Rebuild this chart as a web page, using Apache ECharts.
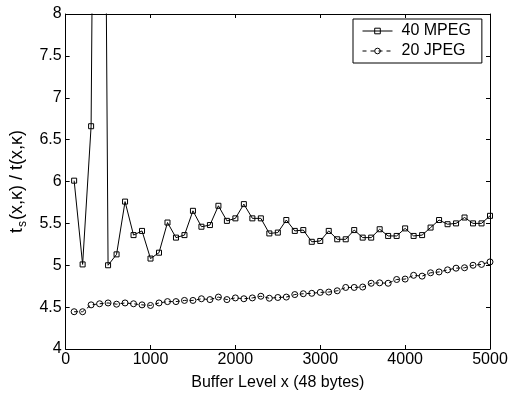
<!DOCTYPE html>
<html>
<head>
<meta charset="utf-8">
<script src="https://cdn.jsdelivr.net/npm/echarts@6/dist/echarts.min.js"></script>
<style>
html,body{margin:0;padding:0;background:#fff;}
#c{width:511px;height:396px;}
</style>
</head>
<body>
<div id="c"></div>
<script>
var bufferLevels = [100,200,300,400,500,600,700,800,900,1000,1100,1200,1300,1400,1500,1600,1700,1800,1900,2000,2100,2200,2300,2400,2500,2600,2700,2800,2900,3000,3100,3200,3300,3400,3500,3600,3700,3800,3900,4000,4100,4200,4300,4400,4500,4600,4700,4800,4900,5000];
var mpeg40 = [6.01,5.01,6.66,20,5.0,5.13,5.76,5.36,5.41,5.08,5.15,5.51,5.33,5.36,5.65,5.46,5.48,5.71,5.53,5.56,5.73,5.56,5.56,5.38,5.39,5.54,5.41,5.42,5.28,5.29,5.41,5.31,5.31,5.42,5.33,5.33,5.43,5.35,5.35,5.44,5.35,5.36,5.45,5.54,5.49,5.50,5.57,5.50,5.50,5.59];
var jpeg20 = [4.445,4.445,4.527,4.54,4.55,4.535,4.55,4.54,4.527,4.52,4.55,4.566,4.566,4.58,4.58,4.60,4.59,4.62,4.59,4.61,4.60,4.61,4.63,4.606,4.615,4.62,4.65,4.66,4.665,4.676,4.68,4.695,4.735,4.735,4.74,4.785,4.79,4.785,4.83,4.835,4.88,4.87,4.91,4.92,4.945,4.965,4.97,5.00,5.01,5.04];
var seriesNames = ['40 MPEG','20 JPEG'];
var xTitle = 'Buffer Level x (48 bytes)';

function pairs(xs, ys){ return xs.map(function(x,i){ return [x, ys[i]]; }); }

var chart = echarts.init(document.getElementById('c'), null, {renderer:'canvas'});
var font = 'Liberation Sans, Arial, Helvetica, sans-serif';
var axisBase = {
  axisLine:{show:true,onZero:false,lineStyle:{color:'#000',width:1}},
  axisTick:{show:true,inside:true,length:4,lineStyle:{color:'#000',width:1}},
  splitLine:{show:false}
};
chart.setOption({
  animation:false,
  backgroundColor:'#fff',
  textStyle:{fontFamily:font,color:'#000'},
  grid:{left:63,right:21,top:14,bottom:44,show:false},
  legend:{
    left:353, top:19, orient:'vertical',
    padding:[4,11,4,9], itemGap:4, itemWidth:30, itemHeight:7,
    borderColor:'#000', borderWidth:1, backgroundColor:'#fff', borderRadius:0,
    textStyle:{fontFamily:font,fontSize:16,color:'#000',padding:[0,0,0,4]},
    data:[
      {name:seriesNames[0],lineStyle:{type:'solid',width:1},itemStyle:{borderWidth:1}},
      {name:seriesNames[1],lineStyle:{type:[4,4],width:1},itemStyle:{borderWidth:1}}
    ]
  },
  xAxis:[
    Object.assign({type:'value',min:0,max:5000,interval:1000,position:'bottom',
      name:xTitle,nameLocation:'middle',nameGap:26,
      nameTextStyle:{fontFamily:font,fontSize:16,color:'#000'},
      axisLabel:{fontFamily:font,fontSize:16,color:'#000',margin:3,formatter:function(v){return String(v);}}}, axisBase),
    Object.assign({type:'value',min:0,max:5000,interval:1000,position:'top',
      axisLabel:{show:false}}, axisBase)
  ],
  yAxis:[
    Object.assign({type:'value',min:4,max:8,interval:0.5,position:'left',
      name:'{t|t}{s|s}{t|(x,κ) / t(x,κ)}',nameLocation:'middle',nameGap:36,nameRotate:90,
      nameTextStyle:{rich:{t:{fontFamily:font,fontSize:18,color:'#000'},s:{fontFamily:font,fontSize:12,color:'#000',padding:[11,1,0,1]}}},
      axisLabel:{fontFamily:font,fontSize:16,color:'#000',margin:4}}, axisBase),
    Object.assign({type:'value',min:4,max:8,interval:0.5,position:'right',
      axisLabel:{show:false}}, axisBase)
  ],
  series:[
    {name:seriesNames[0],type:'line',data:pairs(bufferLevels,mpeg40),clip:true,
     symbol:'rect',symbolSize:5,showAllSymbol:true,
     lineStyle:{color:'#000',width:1},
     itemStyle:{color:'rgba(255,255,255,0)',borderColor:'#000',borderWidth:1}},
    {name:seriesNames[1],type:'line',data:pairs(bufferLevels,jpeg20),clip:true,
     symbol:'circle',symbolSize:6,showAllSymbol:true,
     lineStyle:{color:'#000',width:1,type:[4,3]},
     itemStyle:{color:'rgba(255,255,255,0)',borderColor:'#000',borderWidth:1}}
  ]
});
</script>
</body>
</html>
